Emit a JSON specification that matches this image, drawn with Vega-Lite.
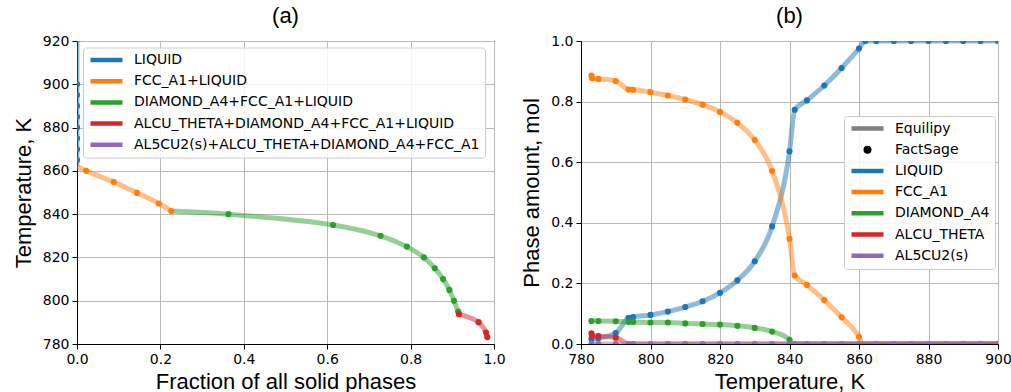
{
  "$schema": "https://vega.github.io/schema/vega-lite/v6.json",
  "background": "white",
  "padding": {"left": 11, "top": 4, "right": 5, "bottom": 5},
  "bounds": "flush",
  "spacing": 87,
  "resolve": {"scale": {"color": "independent"}, "legend": {"color": "independent"}},
  "config": {
    "font": "DejaVu Sans",
    "view": {"stroke": "black", "strokeWidth": 1},
    "axis": {
      "domain": true, "domainColor": "black", "domainWidth": 1,
      "ticks": true, "tickColor": "black", "tickSize": 5, "tickWidth": 1,
      "labelFont": "DejaVu Sans", "labelFontSize": 14, "labelColor": "black", "labelPadding": 3,
      "labelFlush": false, "labelOverlap": false,
      "titleFont": "Liberation Sans", "titleFontSize": 22, "titleFontWeight": "normal", "titleColor": "black",
      "gridColor": "#b8b8b8", "gridWidth": 1
    },
    "title": {"font": "Liberation Sans", "fontSize": 22, "fontWeight": "normal", "color": "black", "offset": 6},
    "legend": {
      "symbolType": "stroke", "symbolSize": 1024, "symbolStrokeWidth": 4.5, "symbolOpacity": 1,
      "clipHeight": 15, "rowPadding": 6.2, "labelFont": "DejaVu Sans", "labelFontSize": 14, "labelColor": "black",
      "labelLimit": 0, "labelOffset": 9, "padding": 5, "fillColor": "rgba(255,255,255,0.85)", "strokeColor": "#cccccc", "cornerRadius": 3
    }
  },
  "hconcat": [
    {
      "width": 417, "height": 303,
      "title": "(a)",
      "data": {"values": [
        {"s": "LIQUID", "x": 0, "y": 920, "k": "l"},
        {"s": "LIQUID", "x": 0, "y": 900, "k": "b"},
        {"s": "LIQUID", "x": 0, "y": 895, "k": "b"},
        {"s": "LIQUID", "x": 0, "y": 890, "k": "b"},
        {"s": "LIQUID", "x": 0, "y": 885, "k": "b"},
        {"s": "LIQUID", "x": 0, "y": 880, "k": "b"},
        {"s": "LIQUID", "x": 0, "y": 875, "k": "b"},
        {"s": "LIQUID", "x": 0, "y": 870, "k": "b"},
        {"s": "LIQUID", "x": 0, "y": 865, "k": "b"},
        {"s": "LIQUID", "x": 0, "y": 862, "k": "l"},
        {"s": "FCC_A1+LIQUID", "x": 0, "y": 862, "k": "l"},
        {"s": "FCC_A1+LIQUID", "x": 0.022, "y": 860, "k": "b"},
        {"s": "FCC_A1+LIQUID", "x": 0.088, "y": 854.8, "k": "b"},
        {"s": "FCC_A1+LIQUID", "x": 0.144, "y": 849.8, "k": "b"},
        {"s": "FCC_A1+LIQUID", "x": 0.196, "y": 844.9, "k": "b"},
        {"s": "FCC_A1+LIQUID", "x": 0.226, "y": 841.4, "k": "b"},
        {"s": "DIAMOND_A4+FCC_A1+LIQUID", "x": 0.226, "y": 841.4, "k": "l"},
        {"s": "DIAMOND_A4+FCC_A1+LIQUID", "x": 0.363, "y": 840, "k": "b"},
        {"s": "DIAMOND_A4+FCC_A1+LIQUID", "x": 0.614, "y": 835, "k": "b"},
        {"s": "DIAMOND_A4+FCC_A1+LIQUID", "x": 0.728, "y": 830, "k": "b"},
        {"s": "DIAMOND_A4+FCC_A1+LIQUID", "x": 0.791, "y": 825, "k": "b"},
        {"s": "DIAMOND_A4+FCC_A1+LIQUID", "x": 0.832, "y": 820, "k": "b"},
        {"s": "DIAMOND_A4+FCC_A1+LIQUID", "x": 0.858, "y": 815, "k": "b"},
        {"s": "DIAMOND_A4+FCC_A1+LIQUID", "x": 0.878, "y": 810, "k": "b"},
        {"s": "DIAMOND_A4+FCC_A1+LIQUID", "x": 0.893, "y": 805, "k": "b"},
        {"s": "DIAMOND_A4+FCC_A1+LIQUID", "x": 0.904, "y": 800, "k": "b"},
        {"s": "DIAMOND_A4+FCC_A1+LIQUID", "x": 0.914, "y": 795, "k": "b"},
        {"s": "DIAMOND_A4+FCC_A1+LIQUID", "x": 0.916, "y": 793.8, "k": "l"},
        {"s": "ALCU_THETA+DIAMOND_A4+FCC_A1+LIQUID", "x": 0.916, "y": 793.8, "k": "b"},
        {"s": "ALCU_THETA+DIAMOND_A4+FCC_A1+LIQUID", "x": 0.963, "y": 790.1, "k": "b"},
        {"s": "ALCU_THETA+DIAMOND_A4+FCC_A1+LIQUID", "x": 0.981, "y": 785.3, "k": "b"},
        {"s": "ALCU_THETA+DIAMOND_A4+FCC_A1+LIQUID", "x": 0.984, "y": 783.2, "k": "b"}
      ]},
      "encoding": {
        "x": {"field": "x", "type": "quantitative",
              "scale": {"domain": [0, 1], "nice": false, "zero": false},
              "axis": {"title": "Fraction of all solid phases", "values": [0, 0.2, 0.4, 0.6, 0.8, 1.0], "format": ".1f", "titlePadding": 5}},
        "y": {"field": "y", "type": "quantitative",
              "scale": {"domain": [780, 920], "nice": false, "zero": false},
              "axis": {"title": "Temperature, K", "values": [780, 800, 820, 840, 860, 880, 900, 920], "format": "d", "titlePadding": 7}},
        "color": {"field": "s", "type": "nominal",
                  "scale": {"domain": ["LIQUID", "FCC_A1+LIQUID", "DIAMOND_A4+FCC_A1+LIQUID", "ALCU_THETA+DIAMOND_A4+FCC_A1+LIQUID", "AL5CU2(s)+ALCU_THETA+DIAMOND_A4+FCC_A1"],
                            "range": ["#1f77b4", "#ff7f0e", "#2ca02c", "#d62728", "#9467bd"]},
                  "legend": {"title": null, "orient": "none", "legendX": 6, "legendY": 6.5}}
      },
      "layer": [
        {
          "transform": [{"filter": "datum.k != 'd'"}],
          "mark": {"type": "line", "strokeWidth": 5, "opacity": 0.5, "interpolate": "catmull-rom", "clip": true},
          "encoding": {"order": {"field": "y", "sort": "descending"}}
        },
        {
          "transform": [{"filter": "datum.k != 'l'"}],
          "mark": {"type": "circle", "size": 38, "opacity": 1, "clip": true},
          "encoding": {}
        }
      ]
    },
    {
      "width": 417, "height": 303,
      "title": "(b)",
      "data": {"values": [
        {"s": "LIQUID", "x": 783, "y": 0.016, "k": "b"},
        {"s": "LIQUID", "x": 785, "y": 0.019, "k": "b"},
        {"s": "LIQUID", "x": 790, "y": 0.036, "k": "b"},
        {"s": "LIQUID", "x": 793.7, "y": 0.086, "k": "b"},
        {"s": "LIQUID", "x": 795, "y": 0.089, "k": "b"},
        {"s": "LIQUID", "x": 800, "y": 0.096, "k": "b"},
        {"s": "LIQUID", "x": 805, "y": 0.107, "k": "b"},
        {"s": "LIQUID", "x": 810, "y": 0.122, "k": "b"},
        {"s": "LIQUID", "x": 815, "y": 0.141, "k": "b"},
        {"s": "LIQUID", "x": 820, "y": 0.169, "k": "b"},
        {"s": "LIQUID", "x": 825, "y": 0.21, "k": "b"},
        {"s": "LIQUID", "x": 830, "y": 0.273, "k": "b"},
        {"s": "LIQUID", "x": 835, "y": 0.388, "k": "b"},
        {"s": "LIQUID", "x": 840, "y": 0.636, "k": "b"},
        {"s": "LIQUID", "x": 841.5, "y": 0.773, "k": "b"},
        {"s": "LIQUID", "x": 845, "y": 0.804, "k": "b"},
        {"s": "LIQUID", "x": 850, "y": 0.853, "k": "b"},
        {"s": "LIQUID", "x": 855, "y": 0.911, "k": "b"},
        {"s": "LIQUID", "x": 860, "y": 0.975, "k": "b"},
        {"s": "LIQUID", "x": 861.8, "y": 1.0, "k": "b"},
        {"s": "LIQUID", "x": 865, "y": 1.0, "k": "b"},
        {"s": "LIQUID", "x": 870, "y": 1.0, "k": "b"},
        {"s": "LIQUID", "x": 875, "y": 1.0, "k": "b"},
        {"s": "LIQUID", "x": 880, "y": 1.0, "k": "b"},
        {"s": "LIQUID", "x": 885, "y": 1.0, "k": "b"},
        {"s": "LIQUID", "x": 890, "y": 1.0, "k": "b"},
        {"s": "LIQUID", "x": 895, "y": 1.0, "k": "b"},
        {"s": "LIQUID", "x": 900, "y": 1.0, "k": "b"},
        {"s": "FCC_A1", "x": 783, "y": 0.886, "k": "d"},
        {"s": "FCC_A1", "x": 783.2, "y": 0.877, "k": "b"},
        {"s": "FCC_A1", "x": 785, "y": 0.875, "k": "b"},
        {"s": "FCC_A1", "x": 790, "y": 0.868, "k": "b"},
        {"s": "FCC_A1", "x": 793.7, "y": 0.840, "k": "b"},
        {"s": "FCC_A1", "x": 795, "y": 0.839, "k": "b"},
        {"s": "FCC_A1", "x": 800, "y": 0.831, "k": "b"},
        {"s": "FCC_A1", "x": 805, "y": 0.820, "k": "b"},
        {"s": "FCC_A1", "x": 810, "y": 0.807, "k": "b"},
        {"s": "FCC_A1", "x": 815, "y": 0.790, "k": "b"},
        {"s": "FCC_A1", "x": 820, "y": 0.766, "k": "b"},
        {"s": "FCC_A1", "x": 825, "y": 0.730, "k": "b"},
        {"s": "FCC_A1", "x": 830, "y": 0.673, "k": "b"},
        {"s": "FCC_A1", "x": 835, "y": 0.571, "k": "b"},
        {"s": "FCC_A1", "x": 840, "y": 0.347, "k": "b"},
        {"s": "FCC_A1", "x": 841.5, "y": 0.226, "k": "b"},
        {"s": "FCC_A1", "x": 845, "y": 0.195, "k": "b"},
        {"s": "FCC_A1", "x": 850, "y": 0.145, "k": "b"},
        {"s": "FCC_A1", "x": 855, "y": 0.088, "k": "b"},
        {"s": "FCC_A1", "x": 860, "y": 0.024, "k": "b"},
        {"s": "FCC_A1", "x": 861.1, "y": 0, "k": "l"},
        {"s": "FCC_A1", "x": 900, "y": 0, "k": "l"},
        {"s": "DIAMOND_A4", "x": 783, "y": 0.076, "k": "b"},
        {"s": "DIAMOND_A4", "x": 785, "y": 0.076, "k": "b"},
        {"s": "DIAMOND_A4", "x": 790, "y": 0.075, "k": "b"},
        {"s": "DIAMOND_A4", "x": 793.7, "y": 0.073, "k": "b"},
        {"s": "DIAMOND_A4", "x": 795, "y": 0.073, "k": "b"},
        {"s": "DIAMOND_A4", "x": 800, "y": 0.071, "k": "b"},
        {"s": "DIAMOND_A4", "x": 805, "y": 0.071, "k": "b"},
        {"s": "DIAMOND_A4", "x": 810, "y": 0.068, "k": "b"},
        {"s": "DIAMOND_A4", "x": 815, "y": 0.066, "k": "b"},
        {"s": "DIAMOND_A4", "x": 820, "y": 0.064, "k": "b"},
        {"s": "DIAMOND_A4", "x": 825, "y": 0.060, "k": "b"},
        {"s": "DIAMOND_A4", "x": 830, "y": 0.053, "k": "b"},
        {"s": "DIAMOND_A4", "x": 835, "y": 0.041, "k": "b"},
        {"s": "DIAMOND_A4", "x": 840, "y": 0.014, "k": "b"},
        {"s": "DIAMOND_A4", "x": 841, "y": 0, "k": "l"},
        {"s": "DIAMOND_A4", "x": 900, "y": 0, "k": "l"},
        {"s": "ALCU_THETA", "x": 783, "y": 0.035, "k": "d"},
        {"s": "ALCU_THETA", "x": 783.2, "y": 0.027, "k": "b"},
        {"s": "ALCU_THETA", "x": 785, "y": 0.026, "k": "b"},
        {"s": "ALCU_THETA", "x": 790, "y": 0.021, "k": "b"},
        {"s": "ALCU_THETA", "x": 794, "y": 0, "k": "l"},
        {"s": "ALCU_THETA", "x": 900, "y": 0, "k": "l"},
        {"s": "AL5CU2(s)", "x": 783, "y": 0, "k": "b"},
        {"s": "AL5CU2(s)", "x": 785, "y": 0, "k": "b"},
        {"s": "AL5CU2(s)", "x": 790, "y": 0, "k": "b"},
        {"s": "AL5CU2(s)", "x": 793.7, "y": 0, "k": "b"},
        {"s": "AL5CU2(s)", "x": 795, "y": 0, "k": "b"},
        {"s": "AL5CU2(s)", "x": 800, "y": 0, "k": "b"},
        {"s": "AL5CU2(s)", "x": 805, "y": 0, "k": "b"},
        {"s": "AL5CU2(s)", "x": 810, "y": 0, "k": "b"},
        {"s": "AL5CU2(s)", "x": 815, "y": 0, "k": "b"},
        {"s": "AL5CU2(s)", "x": 820, "y": 0, "k": "b"},
        {"s": "AL5CU2(s)", "x": 825, "y": 0, "k": "b"},
        {"s": "AL5CU2(s)", "x": 830, "y": 0, "k": "b"},
        {"s": "AL5CU2(s)", "x": 835, "y": 0, "k": "b"},
        {"s": "AL5CU2(s)", "x": 840, "y": 0, "k": "b"},
        {"s": "AL5CU2(s)", "x": 841.5, "y": 0, "k": "b"},
        {"s": "AL5CU2(s)", "x": 845, "y": 0, "k": "b"},
        {"s": "AL5CU2(s)", "x": 850, "y": 0, "k": "b"},
        {"s": "AL5CU2(s)", "x": 855, "y": 0, "k": "b"},
        {"s": "AL5CU2(s)", "x": 860, "y": 0, "k": "b"},
        {"s": "AL5CU2(s)", "x": 865, "y": 0, "k": "b"},
        {"s": "AL5CU2(s)", "x": 870, "y": 0, "k": "b"},
        {"s": "AL5CU2(s)", "x": 875, "y": 0, "k": "b"},
        {"s": "AL5CU2(s)", "x": 880, "y": 0, "k": "b"},
        {"s": "AL5CU2(s)", "x": 885, "y": 0, "k": "b"},
        {"s": "AL5CU2(s)", "x": 890, "y": 0, "k": "b"},
        {"s": "AL5CU2(s)", "x": 895, "y": 0, "k": "b"},
        {"s": "AL5CU2(s)", "x": 900, "y": 0, "k": "b"}
      ]},
      "encoding": {
        "x": {"field": "x", "type": "quantitative",
              "scale": {"domain": [780, 900], "nice": false, "zero": false},
              "axis": {"title": "Temperature, K", "values": [780, 800, 820, 840, 860, 880, 900], "format": "d", "titlePadding": 5}},
        "y": {"field": "y", "type": "quantitative",
              "scale": {"domain": [0, 1], "nice": false, "zero": false},
              "axis": {"title": "Phase amount, mol", "values": [0, 0.2, 0.4, 0.6, 0.8, 1.0], "format": ".1f", "titlePadding": 7}},
        "color": {"field": "s", "type": "nominal",
                  "scale": {"domain": ["Equilipy", "FactSage", "LIQUID", "FCC_A1", "DIAMOND_A4", "ALCU_THETA", "AL5CU2(s)"],
                            "range": ["#808080", "#000000", "#1f77b4", "#ff7f0e", "#2ca02c", "#d62728", "#9467bd"]},
                  "legend": {"title": null, "orient": "none", "legendX": 263, "legendY": 75,
                             "encode": {"symbols": {"update": {
                               "shape": {"signal": "datum.value === 'FactSage' ? 'M-0.11,0A0.11,0.11,0,1,0,0.11,0A0.11,0.11,0,1,0,-0.11,0Z' : 'stroke'"},
                               "fill": {"signal": "datum.value === 'FactSage' ? '#000000' : 'transparent'"}
                             }}}}}
      },
      "layer": [
        {
          "transform": [{"filter": "datum.k != 'd'"}],
          "mark": {"type": "line", "strokeWidth": 5, "opacity": 0.5, "interpolate": "monotone", "clip": true},
          "encoding": {}
        },
        {
          "transform": [{"filter": "datum.k != 'l'"}],
          "mark": {"type": "circle", "size": 38, "opacity": 1, "clip": true},
          "encoding": {}
        }
      ]
    }
  ]
}
